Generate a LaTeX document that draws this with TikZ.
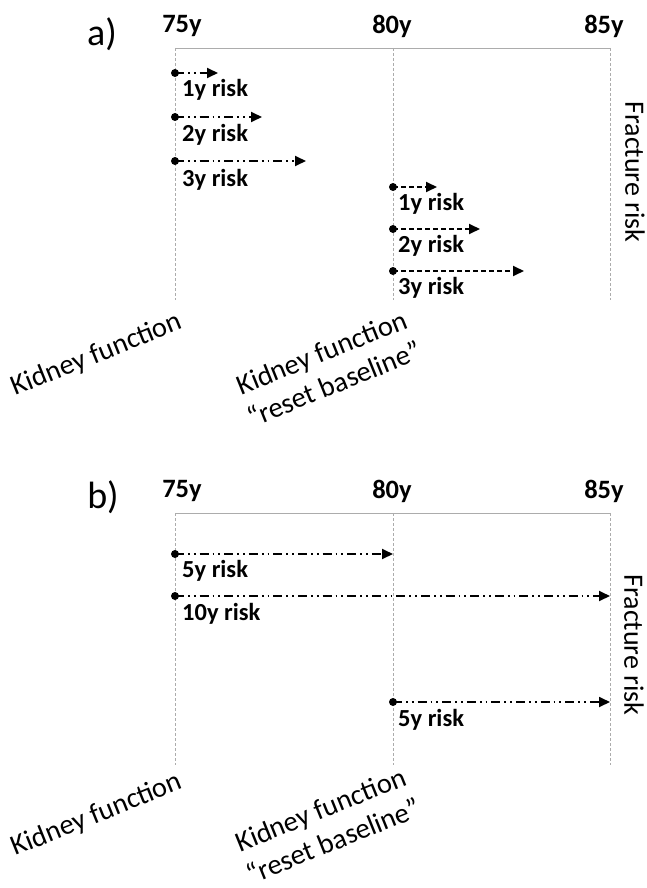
\documentclass[tikz,border=0pt]{standalone}
\usepackage{fontspec}
\setmainfont{Carlito}
\usetikzlibrary{arrows.meta}
\tikzset{
  gridline/.style={draw=gray!65, line width=0.9pt},
  vgrid/.style={draw=gray!65, line width=0.9pt, dash pattern=on 3pt off 2pt},
  startdot/.style={circle, fill=black, inner sep=0pt, minimum size=8pt},
  riskdd/.style={line width=1.8pt, -{Triangle[length=11pt,width=10pt]},
    dash pattern=on 9pt off 4pt on 1.8pt off 4pt on 1.8pt off 4pt},
  riskd/.style={line width=1.8pt, -{Triangle[length=11pt,width=10pt]},
    dash pattern=on 5pt off 3pt},
  yrlbl/.style={font=\bfseries\fontsize{26.5}{30}\selectfont, inner sep=0pt},
  risklbl/.style={font=\bfseries\fontsize{24.5}{28}\selectfont, anchor=west, inner sep=0pt},
  sidelbl/.style={font=\fontsize{28}{32}\selectfont, rotate=-90, inner sep=0pt},
  kidlbl/.style={font=\fontsize{28.5}{34}\selectfont, rotate=22, align=center, inner sep=0pt},
  panellbl/.style={font=\fontsize{38}{42}\selectfont, inner sep=0pt}
}
\begin{document}
\begin{tikzpicture}[x=1pt,y=-1pt]
\useasboundingbox (0,0) rectangle (647,888);

% ---------------- panel a ----------------
\coordinate (a75t) at (175,48);
\coordinate (a80t) at (393,48);
\coordinate (a85t) at (610,48);
\coordinate (a75b) at (175,300);
\coordinate (a80b) at (393,300);
\coordinate (a85b) at (610,300);
\draw[gridline] (a75t) -- (a85t);
\draw[vgrid] (a75t) -- (a75b);
\draw[vgrid] (a80t) -- (a80b);
\draw[vgrid] (a85t) -- (a85b);

\node[panellbl] (alab) at (102,34) {a)};
\node[yrlbl] (a75) at (182,26) {75y};
\node[yrlbl] (a80) at (392,26) {80y};
\node[yrlbl] (a85) at (604,26) {85y};

\node[startdot] (a1s) at (175,73) {};
\coordinate (a1e) at (218,73);
\draw[riskdd] (a1s.center) -- (a1e);
\node[risklbl] (a1l) at (182,90) {1y risk};
\node[startdot] (a2s) at (175,117) {};
\coordinate (a2e) at (262,117);
\draw[riskdd] (a2s.center) -- (a2e);
\node[risklbl] (a2l) at (182,135) {2y risk};
\node[startdot] (a3s) at (175,161) {};
\coordinate (a3e) at (306,161);
\draw[riskdd] (a3s.center) -- (a3e);
\node[risklbl] (a3l) at (182,180) {3y risk};

\node[startdot] (a4s) at (393,187) {};
\coordinate (a4e) at (437,187);
\draw[riskd] (a4s.center) -- (a4e);
\node[risklbl] (a4l) at (398,204) {1y risk};
\node[startdot] (a5s) at (393,229) {};
\coordinate (a5e) at (480,229);
\draw[riskd] (a5s.center) -- (a5e);
\node[risklbl] (a5l) at (398,246) {2y risk};
\node[startdot] (a6s) at (393,271) {};
\coordinate (a6e) at (524,271);
\draw[riskd] (a6s.center) -- (a6e);
\node[risklbl] (a6l) at (398,288) {3y risk};

\node[sidelbl] (afr) at (635,172) {Fracture risk};
\node[kidlbl] (ak1) at (97,355) {Kidney function};
\node[kidlbl] (ak2) at (328,368) {Kidney function\\``reset baseline''};

% ---------------- panel b ----------------
\coordinate (b75t) at (175,513);
\coordinate (b80t) at (393,513);
\coordinate (b85t) at (610,513);
\coordinate (b75b) at (175,765);
\coordinate (b80b) at (393,765);
\coordinate (b85b) at (610,765);
\draw[gridline] (b75t) -- (b85t);
\draw[vgrid] (b75t) -- (b75b);
\draw[vgrid] (b80t) -- (b80b);
\draw[vgrid] (b85t) -- (b85b);

\node[panellbl] (blab) at (103,497) {b)};
\node[yrlbl] (b75) at (182,491) {75y};
\node[yrlbl] (b80) at (392,491) {80y};
\node[yrlbl] (b85) at (604,491) {85y};

\node[startdot] (b1s) at (175,554) {};
\coordinate (b1e) at (393,554);
\draw[riskdd] (b1s.center) -- (b1e);
\node[risklbl] (b1l) at (182,571) {5y risk};
\node[startdot] (b2s) at (175,596) {};
\coordinate (b2e) at (610,596);
\draw[riskdd] (b2s.center) -- (b2e);
\node[risklbl] (b2l) at (182,614) {10y risk};
\node[startdot] (b3s) at (393,702) {};
\coordinate (b3e) at (610,702);
\draw[riskdd] (b3s.center) -- (b3e);
\node[risklbl] (b3l) at (398,720) {5y risk};

\node[sidelbl] (bfr) at (634,645) {Fracture risk};
\node[kidlbl] (bk1) at (97,815) {Kidney function};
\node[kidlbl] (bk2) at (327,825) {Kidney function\\``reset baseline''};
\end{tikzpicture}
\end{document}
